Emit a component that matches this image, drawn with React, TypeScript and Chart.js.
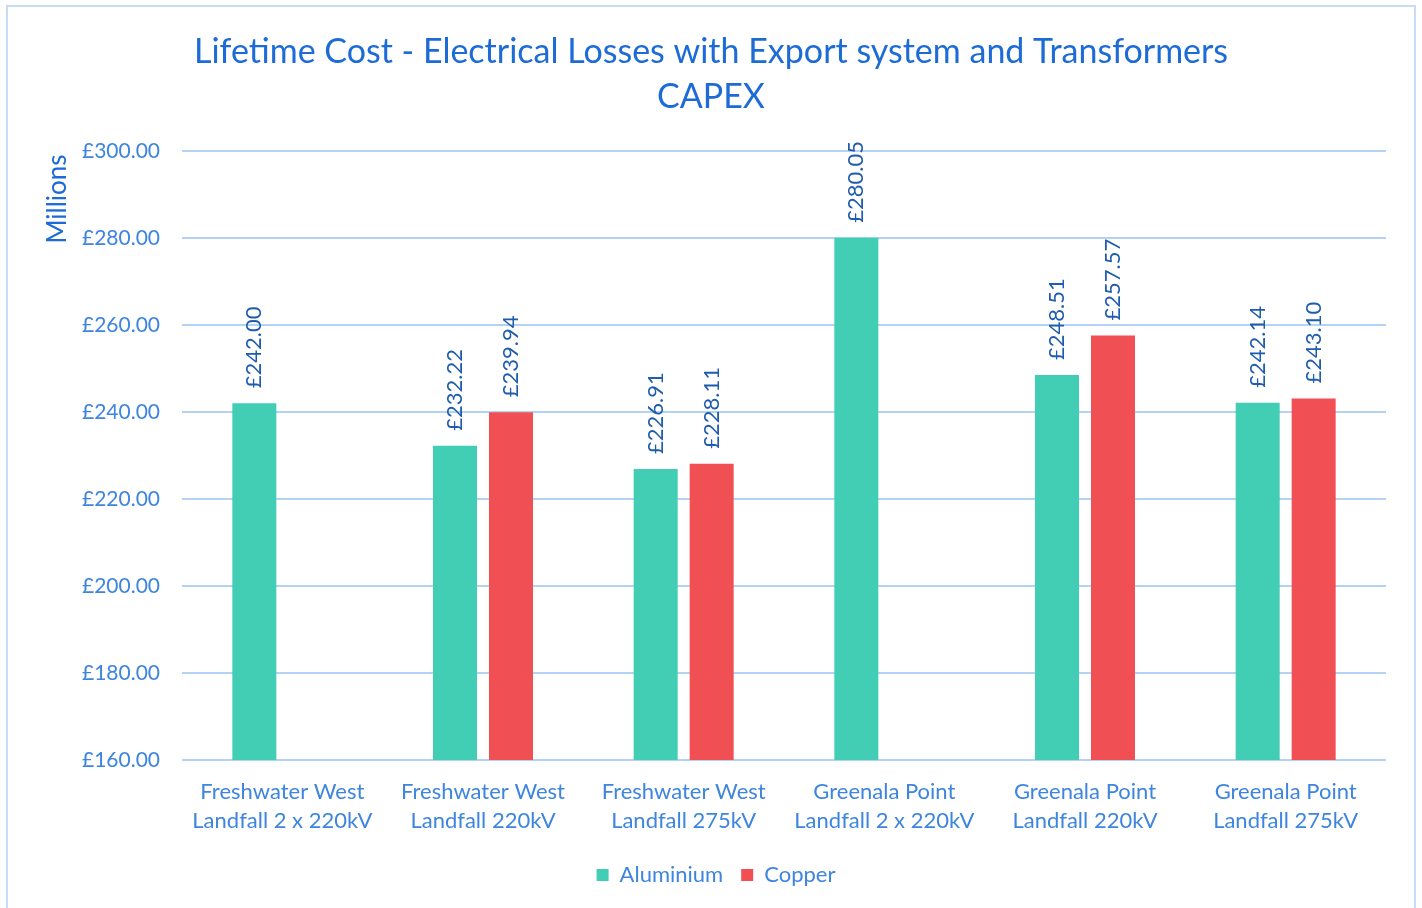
import React, { useEffect, useRef } from "react";
import { Chart, registerables } from "chart.js";

Chart.register(...registerables);

const categories: string[][] = [
  ["Freshwater West", "Landfall 2 x 220kV"],
  ["Freshwater West", "Landfall 220kV"],
  ["Freshwater West", "Landfall 275kV"],
  ["Greenala Point", "Landfall 2 x 220kV"],
  ["Greenala Point", "Landfall 220kV"],
  ["Greenala Point", "Landfall 275kV"],
];
const aluminium: (number | null)[] = [242.0, 232.22, 226.91, 280.05, 248.51, 242.14];
const copper: (number | null)[] = [null, 239.94, 228.11, null, 257.57, 243.1];
const titleLines: string[] = ["Lifetime Cost - Electrical Losses with Export system and Transformers", "CAPEX"];
const yAxisTitle = "Millions";
const yMin = 160;
const yMax = 300;
const yStep = 20;

const FONT = "Lato, 'Open Sans', sans-serif";
const TITLE_COLOR = "#1c6bd6";
const TICK_COLOR = "#3d85de";
const LABEL_COLOR = "#1f5cae";
const GRID_COLOR = "#b3d3f5";
const ALU_COLOR = "#42cdb5";
const COP_COLOR = "#f05053";

const decorPlugin = {
  id: "decor",
  afterLayout(chart: any) {
    const lg = chart.legend;
    if (lg) {
      lg.left += 23;
      lg.right += 23;
    }
  },
  beforeDraw(chart: any) {
    const ctx = chart.ctx;
    ctx.save();
    ctx.fillStyle = "#ffffff";
    ctx.fillRect(0, 0, chart.width, chart.height);
    ctx.strokeStyle = "#c7ddf7";
    ctx.lineWidth = 2;
    ctx.strokeRect(7, 6, 1408, 920);
    ctx.restore();
  },
  afterDraw(chart: any) {
    const ctx = chart.ctx;
    ctx.save();
    ctx.fillStyle = TITLE_COLOR;
    ctx.font = `34px ${FONT}`;
    ctx.textAlign = "center";
    ctx.textBaseline = "middle";
    titleLines.forEach((t, i) => ctx.fillText(t, chart.width / 2, 52 + i * 45));
    ctx.translate(58, 199);
    ctx.rotate(-Math.PI / 2);
    ctx.font = `26px ${FONT}`;
    ctx.fillText(yAxisTitle, 0, 0);
    ctx.restore();
  },
  afterDatasetsDraw(chart: any) {
    const ctx = chart.ctx;
    ctx.save();
    ctx.fillStyle = LABEL_COLOR;
    ctx.font = `22px ${FONT}`;
    ctx.textAlign = "left";
    ctx.textBaseline = "middle";
    chart.data.datasets.forEach((ds: any, di: number) => {
      const meta = chart.getDatasetMeta(di);
      meta.data.forEach((el: any, i: number) => {
        const v = ds.data[i];
        if (v === null || v === undefined) return;
        ctx.save();
        ctx.translate(el.x, el.y - 15);
        ctx.rotate(-Math.PI / 2);
        ctx.fillText("£" + Number(v).toFixed(2), 0, 0);
        ctx.restore();
      });
    });
    ctx.restore();
  },
};

export default function App() {
  const ref = useRef<HTMLCanvasElement | null>(null);
  useEffect(() => {
    if (!ref.current) return;
    const chart = new Chart(ref.current, {
      type: "bar",
      data: {
        labels: categories,
        datasets: [
          { label: "Aluminium", data: aluminium, backgroundColor: ALU_COLOR, categoryPercentage: 0.558, barPercentage: 0.786 },
          { label: "Copper", data: copper, backgroundColor: COP_COLOR, categoryPercentage: 0.558, barPercentage: 0.786 },
        ],
      },
      options: {
        responsive: false,
        animation: false,
        layout: { padding: { top: 151, right: 36, bottom: 12, left: 0 } },
        plugins: {
          title: { display: false },
          tooltip: { enabled: false },
          legend: {
            position: "bottom",
            labels: {
              color: TICK_COLOR,
              font: { family: FONT, size: 22 },
              boxWidth: 12,
              boxHeight: 12,
              padding: 18,
            },
          },
        },
        scales: {
          x: {
            grid: { display: false, drawTicks: false },
            border: { display: false },
            ticks: {
              color: TICK_COLOR,
              font: { family: FONT, size: 22, lineHeight: 1.32 },
              padding: 17,
              maxRotation: 0,
              autoSkip: false,
            },
            afterFit(scale: any) {
              scale.height = 86;
            },
          },
          y: {
            min: yMin,
            max: yMax,
            grid: { color: GRID_COLOR, lineWidth: 2, drawTicks: false },
            border: { display: false },
            ticks: {
              stepSize: yStep,
              color: TICK_COLOR,
              font: { family: FONT, size: 21 },
              padding: 22,
              callback: (v: any) => "£" + Number(v).toFixed(2),
            },
            afterFit(scale: any) {
              scale.width = 182;
            },
          },
        },
      },
      plugins: [decorPlugin],
    });
    return () => chart.destroy();
  }, []);
  return (
    <div style={{ position: "absolute", left: 0, top: 0, width: 1422, height: 908, overflow: "hidden" }}>
      <canvas ref={ref} width={1422} height={908} style={{ display: "block" }} />
    </div>
  );
}
